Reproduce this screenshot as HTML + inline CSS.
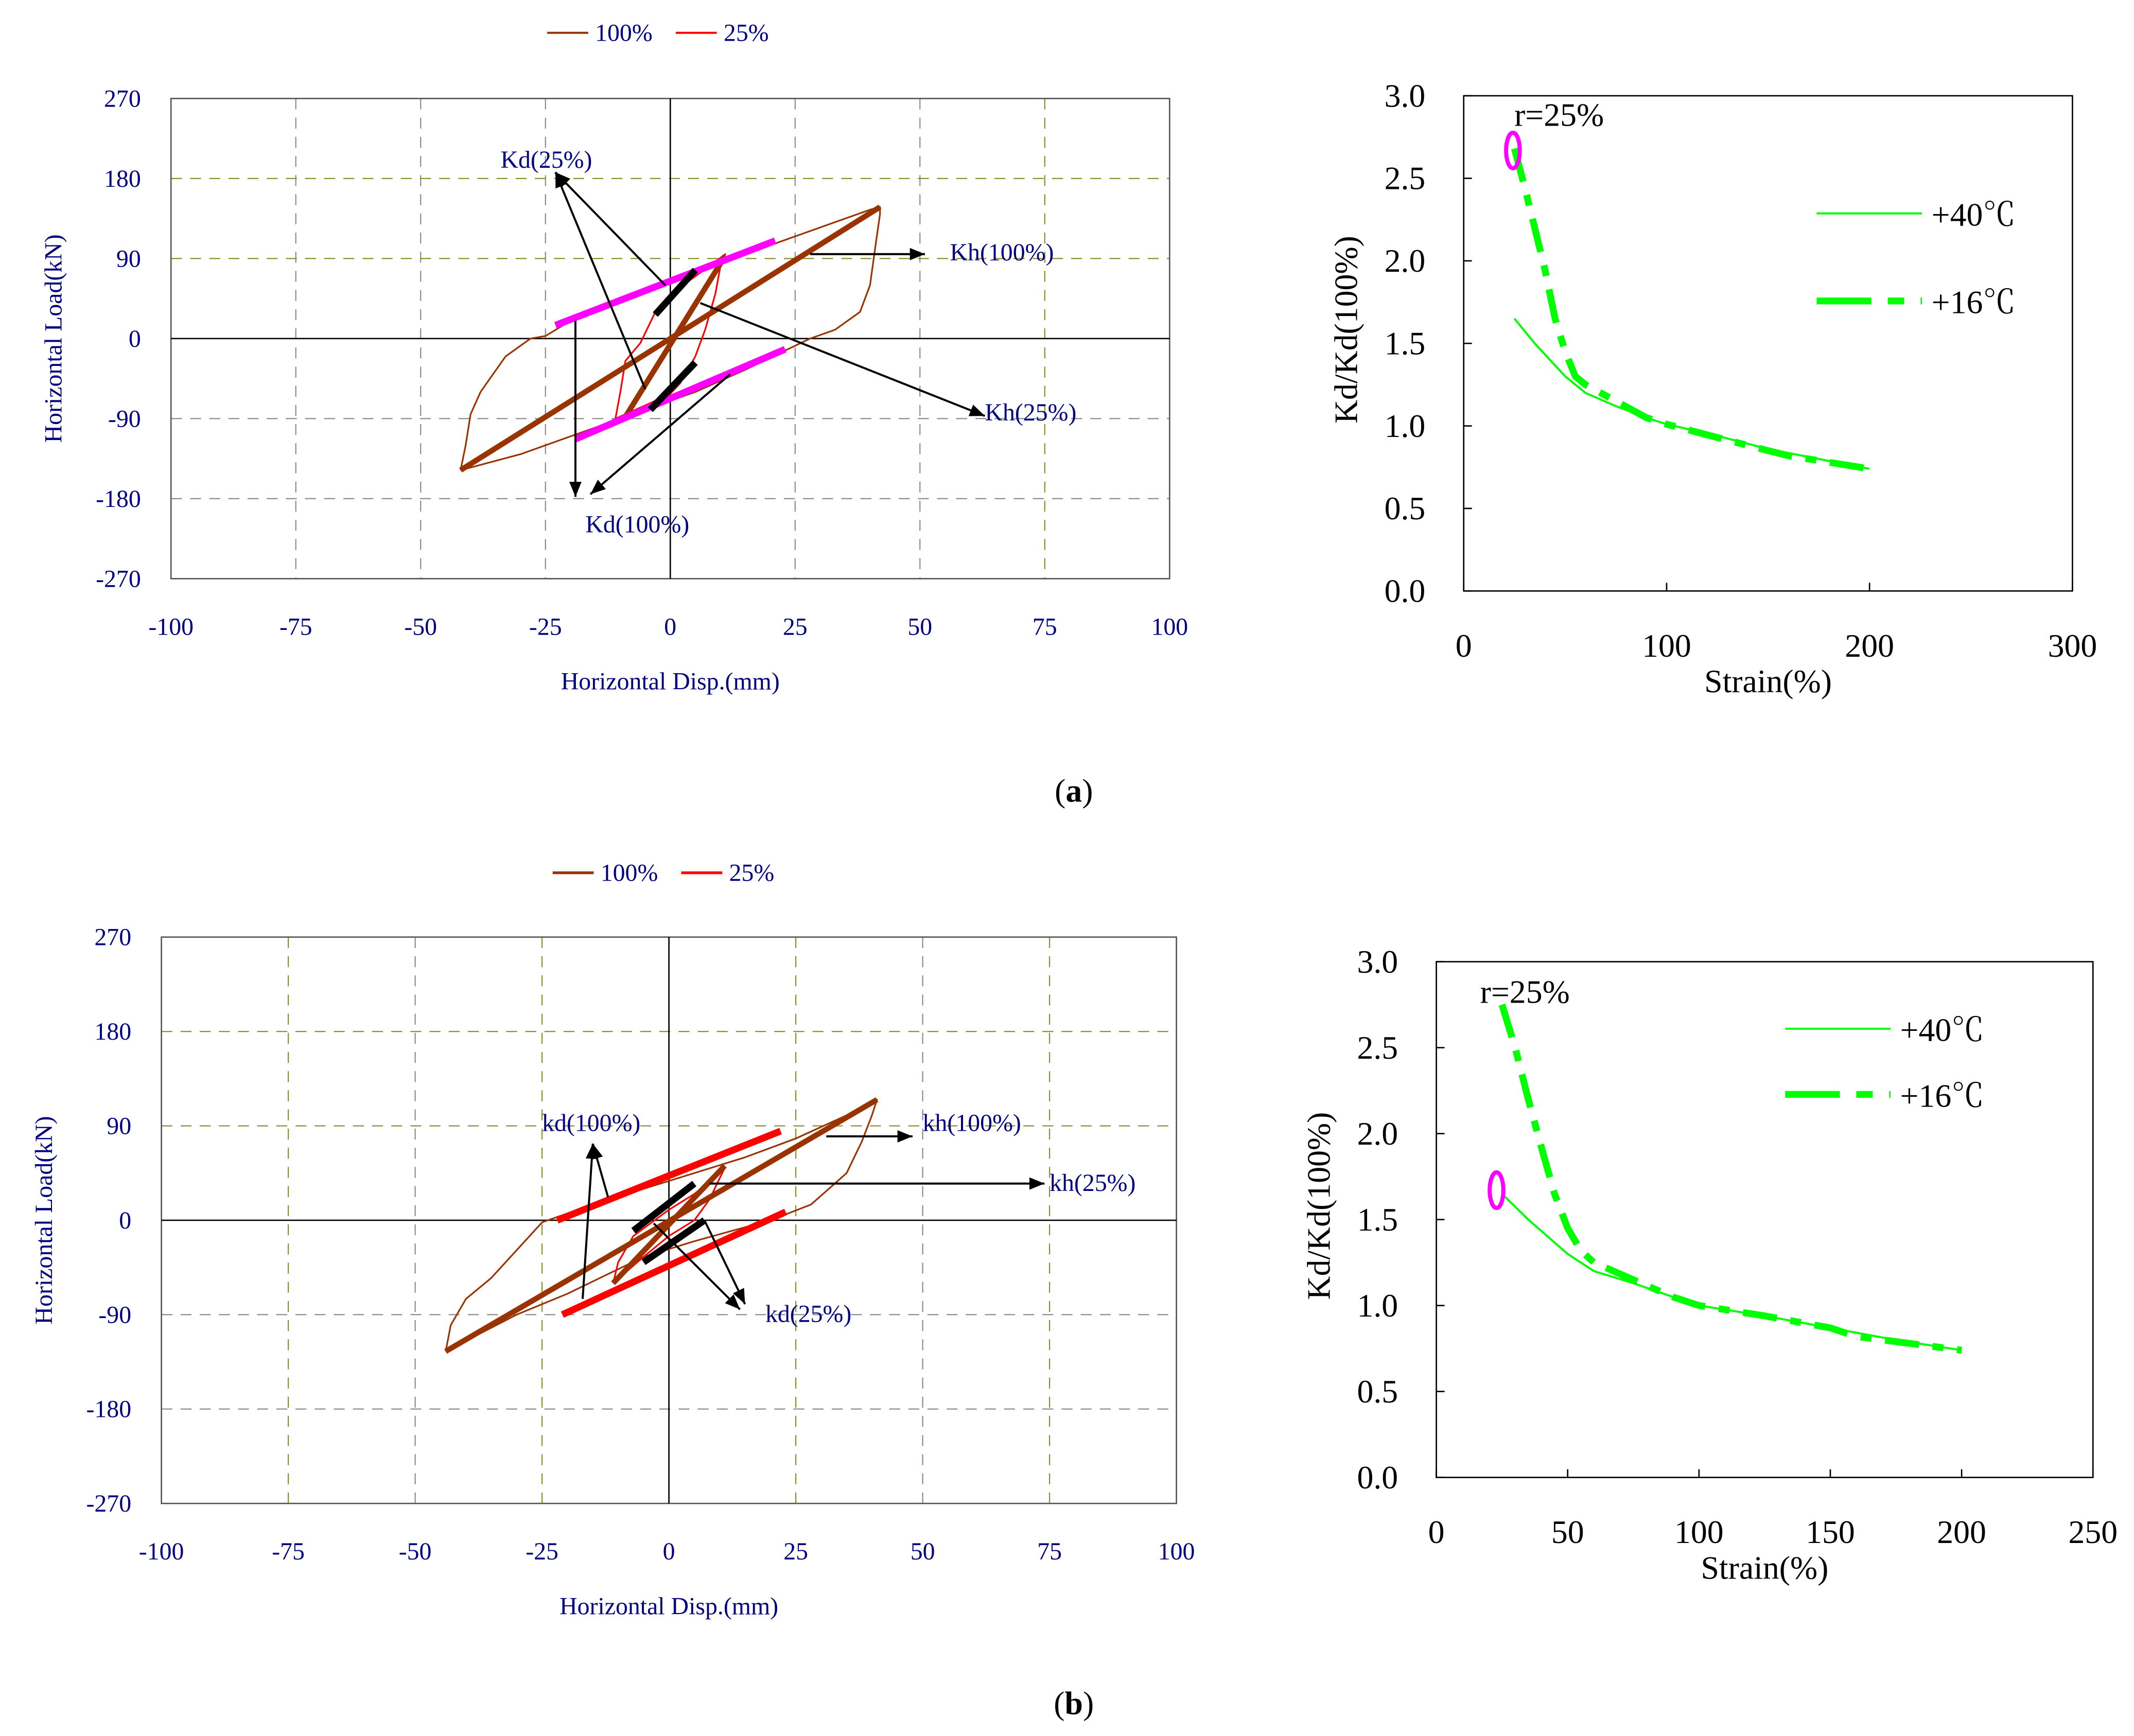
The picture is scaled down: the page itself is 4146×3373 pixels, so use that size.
<!DOCTYPE html>
<html><head><meta charset="utf-8"><style>
html,body{margin:0;padding:0;background:#fff;}
svg{display:block;}
text{font-family:"Liberation Serif","Noto Serif CJK SC",serif;}
</style></head><body>
<svg id="fig" xmlns="http://www.w3.org/2000/svg" width="4146" height="3373" viewBox="0 0 1560 1269" preserveAspectRatio="none">
<rect width="1560" height="1269" fill="#fff"/>
<text x="785" y="586" font-size="24" text-anchor="middle">(<tspan font-weight="bold">a</tspan>)</text>
<text x="785" y="1253" font-size="24" text-anchor="middle">(<tspan font-weight="bold">b</tspan>)</text>
</svg>
<script>
// ---------- Data: chart (a) hysteresis ----------
const aLoop100X=[-42,-41,-40,-38,-33,-28,-25,-20,-10,-3,0,10,20,30,40,42,42,41,40,38,33,28,25,15,5,0,-10,-20,-30,-42];
const aLoop100Y=[-148,-120,-85,-60,-20,0,3,20,45,60,65,85,105,125,145,148,140,100,60,30,10,0,-8,-35,-60,-70,-90,-110,-130,-148];
const aLoop25X=[-11,-10,-9,-6,-3,0,5,11,10,9,8,7,5,2,0,-5,-11];
const aLoop25Y=[-90,-60,-25,-5,30,50,70,95,80,50,30,10,-20,-50,-62,-75,-90];
const aKh100=[-42,-148,42,148];
const aKh25=[-9,-88,11,93];
const aKdUpper=[-23,15,21,110];
const aKdLower=[-19,-113,23,-12];
const aBlack1=[-3,27,5,77];
const aBlack2=[-4,-80,5,-27];
// ---------- Data: chart (b) hysteresis ----------
const bLoop100X=[-44,-43,-40,-35,-25,-15,-5,5,15,25,35,41,40,38,35,28,20,5,-5,-20,-30,-44];
const bLoop100Y=[-125,-100,-75,-55,-2,15,30,45,60,78,100,115,100,75,45,15,0,-20,-35,-70,-90,-125];
const bLoop25X=[-11,-10,-7,0,5,10,11,10,8,5,0,-5,-11];
const bLoop25Y=[-60,-40,-15,10,25,45,50,40,20,0,-15,-35,-60];
const bKh100=[-44,-125,41,115];
const bKh25=[-11,-60,11,52];
const bKdUpper=[-22,0,22,85];
const bKdLower=[-21,-90,23,8];
const bBlack1=[-7,-10,5,35];
const bBlack2=[-5,-40,7,0];
const dispTicks=[-100,-75,-50,-25,0,25,50,75,100];
const loadTicks=[-270,-180,-90,0,90,180,270];
// ---------- Data: strain charts ----------
const a40X=[25,35,50,60,75,90,100,125,150,175,200];
const a40Y=[1.65,1.5,1.3,1.2,1.12,1.05,1.01,0.94,0.86,0.8,0.74];
const a16X=[25,30,35,40,45,50,55,60,75,90,100,125,150,160,175,200];
const a16Y=[2.68,2.45,2.2,1.95,1.65,1.45,1.3,1.25,1.15,1.05,1.01,0.93,0.85,0.82,0.79,0.74];
const b40X=[25,35,50,60,75,90,100,125,150,175,200];
const b40Y=[1.65,1.5,1.3,1.2,1.13,1.05,1.0,0.94,0.87,0.8,0.74];
const b16X=[25,30,35,40,45,50,55,60,75,90,100,125,150,160,175,200];
const b16Y=[2.75,2.5,2.2,1.92,1.65,1.45,1.32,1.25,1.15,1.05,1.0,0.94,0.87,0.82,0.79,0.74];
const ratioTicks=[0,0.5,1.0,1.5,2.0,2.5,3.0];
const strainTicksA=[0,100,200,300];
const strainTicksB=[0,50,100,150,200,250];

const NS='http://www.w3.org/2000/svg';
const svg=document.getElementById('fig');
function mk(tag,attrs,parent){const e=document.createElementNS(NS,tag);for(const k in attrs)e.setAttribute(k,attrs[k]);(parent||svg).appendChild(e);return e;}
function txt(s,attrs,parent){const e=mk('text',attrs,parent);e.textContent=s;return e;}

function hyst(p,pre){
  const g=mk('g',{});
  
  
  const sx=v=>p.x0+(v+100)/200*(p.x1-p.x0);
  const sy=v=>p.y1-(v+270)/540*(p.y1-p.y0);
  dispTicks.forEach((t,i)=>{if(t===-100||t===100||t===0)return;
    const l=mk('line',{x1:sx(t),x2:sx(t),y1:p.y0,y2:p.y1,stroke:p.vcol[i],'stroke-width':0.8,'stroke-dasharray':'8,6'},g);
    
    });
  loadTicks.forEach((t,i)=>{if(Math.abs(t)===270||t===0)return;
    const l=mk('line',{x1:p.x0,x2:p.x1,y1:sy(t),y2:sy(t),stroke:t>0?'#8a8a20':'#888','stroke-width':0.8,'stroke-dasharray':'8,6'},g);
    
    });
  const fr=mk('rect',{x:p.x0,y:p.y0,width:p.x1-p.x0,height:p.y1-p.y0,fill:'none',stroke:'#555','stroke-width':1},g);
  
  
  mk('line',{x1:sx(0),x2:sx(0),y1:p.y0,y2:p.y1,stroke:'#000','stroke-width':1},g);
  mk('line',{x1:p.x0,x2:p.x1,y1:sy(0),y2:sy(0),stroke:'#000','stroke-width':1},g);
  dispTicks.forEach(t=>{const e=txt(String(t),{x:sx(t),y:p.y1+41,'font-size':18,fill:'#000080','text-anchor':'middle'},g);
    
    });
  loadTicks.forEach(t=>{const e=txt(String(t),{x:p.x0-22,y:sy(t)+6,'font-size':18,fill:'#000080','text-anchor':'end'},g);
    
    });
  const xt=txt('Horizontal Disp.(mm)',{x:(p.x0+p.x1)/2,y:p.y1+81,'font-size':18,fill:'#000080','text-anchor':'middle'},g);
  
  
  const yt=txt('Horizontal Load(kN)',{x:0,y:0,'font-size':18,fill:'#000080','text-anchor':'middle','font-family':'Liberation Sans, sans-serif',transform:`translate(${p.x0-80},${(p.y0+p.y1)/2}) rotate(-90)`},g);
  
  
  const lx=p.lx,ly=p.ly;
  mk('line',{x1:lx,x2:lx+30,y1:ly,y2:ly,stroke:'#993300','stroke-width':p.legW},g);
  const l1=txt('100%',{x:lx+35,y:ly+6,'font-size':18,fill:'#000080'},g);
  
  
  mk('line',{x1:lx+94,x2:lx+124,y1:ly,y2:ly,stroke:'#ff0000','stroke-width':p.legW},g);
  const l2=txt('25%',{x:lx+129,y:ly+6,'font-size':18,fill:'#000080'},g);
  
  
  const path=(X,Y)=>X.map((v,i)=>(i?'L':'M')+sx(v).toFixed(1)+','+sy(Y[i]).toFixed(1)).join('');
  const s1=mk('path',{d:path(p.l100x,p.l100y),fill:'none',stroke:'#993300','stroke-width':1.2,'stroke-linejoin':'round'},g);
  
  
  const s2=mk('path',{d:path(p.l25x,p.l25y),fill:'none',stroke:'#ff0000','stroke-width':1.2,'stroke-linejoin':'round'},g);
  
  
  const seg=(a,col,w,name)=>{const l=mk('line',{x1:sx(a[0]),y1:sy(a[1]),x2:sx(a[2]),y2:sy(a[3]),stroke:col,'stroke-width':w},g);
    
    };
  seg(p.kh100,'#993300',4,'kh-100-line');
  seg(p.kh25,'#993300',4,'kh-25-line');
  seg(p.kdU,p.kdCol,5,'kd-upper-line');
  seg(p.kdL,p.kdCol,5,'kd-lower-line');
  seg(p.b1,'#000',5,'kd25-upper-line');
  seg(p.b2,'#000',5,'kd25-lower-line');
  p.arrows.forEach(a=>{const x1=sx(a[0]),y1=sy(a[1]),x2=sx(a[2]),y2=sy(a[3]);
    mk('line',{x1,y1,x2,y2,stroke:'#000','stroke-width':1.5},g);
    const ang=Math.atan2(y2-y1,x2-x1),L=11,W=4.5;
    const bx=x2-L*Math.cos(ang),by=y2-L*Math.sin(ang);
    mk('polygon',{points:`${x2},${y2} ${bx-W*Math.sin(ang)},${by+W*Math.cos(ang)} ${bx+W*Math.sin(ang)},${by-W*Math.cos(ang)}`,fill:'#000'},g);});
  p.labels.forEach(lb=>{const e=txt(lb[0],{x:sx(lb[1]),y:sy(lb[2]),'font-size':18,fill:'#000080'},g);
    
    });
}

hyst({x0:125,x1:855,y0:72,y1:423,lx:400,ly:24,legW:1.5,
  vcol:['','#888','#888','#888','','#888','#888','#8a8a20',''],
  l100x:aLoop100X,l100y:aLoop100Y,l25x:aLoop25X,l25y:aLoop25Y,
  kh100:aKh100,kh25:aKh25,kdU:aKdUpper,kdL:aKdLower,kdCol:'#ff00ff',b1:aBlack1,b2:aBlack2,
  arrows:[[-1,60,-23,187],[-5,-57,-23,187],[-19,20,-19,-178],[12,-40,-16,-175],[28,95,51,95],[6,40,63,-87]],
  labels:[['Kd(25%)',-34,192],['Kh(100%)',56,88],['Kh(25%)',63,-92],['Kd(100%)',-17,-218]]},'a');
hyst({x0:118,x1:860,y0:685,y1:1099,lx:404,ly:638,legW:2,
  vcol:['','#8a8a20','#888','#8a8a20','','#8a8a20','#888','#8a8a20',''],
  l100x:bLoop100X,l100y:bLoop100Y,l25x:bLoop25X,l25y:bLoop25Y,
  kh100:bKh100,kh25:bKh25,kdU:bKdUpper,kdL:bKdLower,kdCol:'#ff0000',b1:bBlack1,b2:bBlack2,
  arrows:[[-12,22,-15,73],[-17,-75,-15,73],[-3,-3,14,-85],[7,0,15,-80],[31,80,48,80],[8,35,74,35]],
  labels:[['kd(100%)',-25,85],['kh(100%)',50,85],['kh(25%)',75,28],['kd(25%)',19,-97]]},'b');

function strain(p,pre){
  const g=mk('g',{});
  
  
  const sx=v=>p.x0+v/p.xmax*(p.x1-p.x0);
  const sy=v=>p.y1-v/3*(p.y1-p.y0);
  const fr=mk('rect',{x:p.x0,y:p.y0,width:p.x1-p.x0,height:p.y1-p.y0,fill:'none',stroke:'#000','stroke-width':1},g);
  
  
  ratioTicks.forEach(t=>{mk('line',{x1:p.x0,x2:p.x0+6,y1:sy(t),y2:sy(t),stroke:'#000','stroke-width':1},g);
    const e=txt(t.toFixed(1),{x:p.x0-28,y:sy(t)+8,'font-size':24,'text-anchor':'end'},g);
    
    });
  p.xt.forEach(t=>{mk('line',{x1:sx(t),x2:sx(t),y1:p.y1,y2:p.y1-6,stroke:'#000','stroke-width':1},g);
    const e=txt(String(t),{x:sx(t),y:p.y1+48,'font-size':24,'text-anchor':'middle'},g);
    
    });
  const xt=txt('Strain(%)',{x:(p.x0+p.x1)/2,y:p.y1+74,'font-size':24,'text-anchor':'middle'},g);
  
  
  const yt=txt('Kd/Kd(100%)',{x:0,y:0,'font-size':24,'text-anchor':'middle',transform:`translate(${p.x0-78},${(p.y0+p.y1)/2-10}) rotate(-90)`},g);
  
  
  const path=(X,Y)=>X.map((v,i)=>(i?'L':'M')+sx(v).toFixed(1)+','+sy(Y[i]).toFixed(1)).join('');
  const s1=mk('path',{d:path(p.x40,p.y40),fill:'none',stroke:'#00ff00','stroke-width':1.5},g);
  
  
  const s2=mk('path',{d:path(p.x16,p.y16),fill:'none',stroke:'#00ff00','stroke-width':5,'stroke-dasharray':'25,10,8,10'},g);
  
  
  mk('line',{x1:p.lx,x2:p.lx+77,y1:p.ly,y2:p.ly,stroke:'#00ff00','stroke-width':1.5},g);
  const l1=txt('+40℃',{x:p.lx+84,y:p.ly+9,'font-size':24},g);
  
  
  mk('line',{x1:p.lx,x2:p.lx+77,y1:p.ly+p.ldy,y2:p.ly+p.ldy,stroke:'#00ff00','stroke-width':5,'stroke-dasharray':'40,12,12,12'},g);
  const l2=txt('+16℃',{x:p.lx+84,y:p.ly+p.ldy+9,'font-size':24},g);
  
  
  const r=txt('r=25%',{x:p.rx,y:p.ry,'font-size':24},g);
  
  
  const el=mk('ellipse',{cx:p.ex,cy:p.ey,rx:5,ry:13,fill:'none',stroke:'#ff00ff','stroke-width':3},g);
  
  
}
strain({x0:1070,x1:1515,y0:70,y1:432,xmax:300,xt:strainTicksA,x40:a40X,y40:a40Y,x16:a16X,y16:a16Y,
  lx:1328,ly:156,ldy:64,rx:1107,ry:92,ex:1106,ey:110},'a');
strain({x0:1050,x1:1530,y0:703,y1:1080,xmax:250,xt:strainTicksB,x40:b40X,y40:b40Y,x16:b16X,y16:b16Y,
  lx:1305,ly:752,ldy:48,rx:1082,ry:733,ex:1094,ey:870},'b');
</script>
</body></html>
